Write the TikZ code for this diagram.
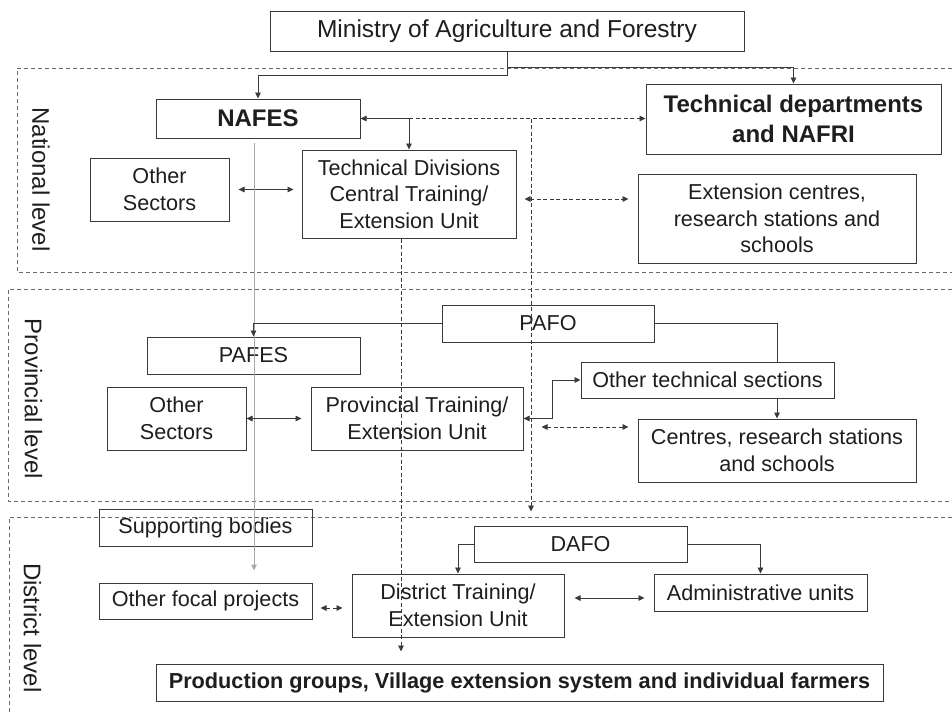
\documentclass[tikz,border=0pt]{standalone}
\usepackage{fontspec}
\setmainfont{Liberation Sans}
\usetikzlibrary{arrows.meta,calc}
\definecolor{boxline}{HTML}{3A3A3A}
\definecolor{ink}{HTML}{1E1E1E}
\definecolor{levelline}{HTML}{6A6A6A}
\definecolor{feedline}{HTML}{A8A8A8}

\begin{document}
\begin{tikzpicture}[x=1pt,y=-1pt,
  unit/.style={draw=boxline, line width=1pt, text=ink, inner sep=0pt, align=center,
               font=\fontsize{21.6}{26.7}\selectfont},
  bigunit/.style={unit, font=\fontsize{24}{30}\bfseries\selectfont},
  level/.style={draw=levelline, line width=0.8pt, dash pattern=on 4pt off 3pt},
  levellabel/.style={rotate=-90, text=ink, inner sep=0pt, font=\fontsize{24}{28}\selectfont},
  link/.style={draw=boxline, line width=0.9pt},
  dashlink/.style={draw=boxline, line width=0.9pt, dash pattern=on 4pt off 2.5pt},
  feed/.style={draw=feedline, line width=1pt},
  onto/.style={-{Triangle[length=6pt,width=5.5pt]}},
  both/.style={{Triangle[length=6pt,width=5.5pt]}-{Triangle[length=6pt,width=5.5pt]}}
]
\useasboundingbox (0,0) rectangle (952,713);
\fill[white] (0,0) rectangle (952,713);

% administrative levels
\draw[level] (952,68) -- (17,68) -- (17,272) -- (952,272);
\draw[level] (952,289) -- (8,289) -- (8,501) -- (952,501);
\draw[level] (952,517) -- (9,517) -- (9,720);
\node[levellabel] (lnat)  at (41,179.5) {National level};
\node[levellabel] (lprov) at (33.5,399) {Provincial level};
\node[levellabel] (ldist) at (32.5,628) {District level};

% ministry and national units
\node[unit, minimum width=474pt, minimum height=40pt, font=\fontsize{24.5}{29}\selectfont]
  (ministry) at (507,31) {Ministry of Agriculture and Forestry};
\node[bigunit, minimum width=204pt, minimum height=39pt] (nafes) at (258,118.5) {NAFES};
\node[bigunit, minimum width=295pt, minimum height=70pt] (techdep) at (793.5,119)
  {Technical departments\\and NAFRI};
\node[unit, minimum width=214pt, minimum height=88pt] (techdiv) at (409,194)
  {Technical Divisions\\Central Training/\\Extension Unit};
\node[unit, minimum width=139pt, minimum height=63pt] (othersec1) at (159.5,189.5)
  {Other\\Sectors};
\node[unit, minimum width=278pt, minimum height=89pt] (extcent) at (777,218.5)
  {Extension centres,\\research stations and\\schools};

% provincial units
\node[unit, minimum width=212pt, minimum height=37pt] (pafo) at (548,323.5) {PAFO};
\node[unit, minimum width=213pt, minimum height=37pt] (pafes) at (253.5,355.5) {PAFES};
\node[unit, minimum width=253pt, minimum height=36pt] (othertech) at (707.5,380)
  {Other technical sections};
\node[unit, minimum width=139pt, minimum height=63pt] (othersec2) at (176.5,418.5)
  {Other\\Sectors};
\node[unit, minimum width=212pt, minimum height=63pt] (pteu) at (417,418.5)
  {Provincial Training/\\Extension Unit};
\node[unit, minimum width=278pt, minimum height=63pt] (centres) at (777,450.5)
  {Centres, research stations\\and schools};

% district units
\node[unit, minimum width=213pt, minimum height=37pt] (supporting) at (205.5,527.5)
  {Supporting bodies};
\node[unit, minimum width=213pt, minimum height=36pt] (dafo) at (580.5,544) {DAFO};
\node[unit, minimum width=213pt, minimum height=36pt] (otherfocal) at (205.5,601)
  {Other focal projects};
\node[unit, minimum width=212pt, minimum height=63pt] (dteu) at (458,605.5)
  {District Training/\\Extension Unit};
\node[unit, minimum width=213pt, minimum height=37pt] (admin) at (760.5,592.5)
  {Administrative units};
\node[unit, minimum width=727pt, minimum height=37pt, font=\fontsize{21.7}{26}\bfseries\selectfont]
  (production) at (519.5,682.5)
  {Production groups, Village extension system and individual farmers};

% national connectors
\draw[link,onto] (ministry.south) -- ++(0,24) -| (nafes.north);
\draw[link,onto] (ministry.south) -- ++(0,16) -| (techdep.north);
\draw[link,both] (nafes.east) -| (techdiv.north);
\draw[dashlink,onto] (techdiv.north |- nafes.east) -- (techdep.west |- nafes.east);
\draw[dashlink,onto,shorten >=14pt] ($(techdiv.north |- nafes.east)+(122,0)$) coordinate (split)
  -- (split |- dafo.north);
\draw[link,both,shorten <=9pt,shorten >=8pt] (othersec1.east) -- (othersec1.east -| techdiv.west);
\draw[dashlink,both,shorten <=8pt,shorten >=9pt] ([yshift=-5pt]techdiv.east) coordinate (d1)
  -- (d1 -| extcent.west);

% lines running down through the levels
\draw[feed,onto,shorten >=12pt] ($(nafes.south)+(-4,4)$) coordinate (f1) -- (f1 |- otherfocal.north);
\draw[dashlink,onto,shorten >=12pt] ($(techdiv.south)+(-8,0)$) coordinate (t1) -- (t1 |- production.north);

% provincial connectors
\draw[link,onto] (pafo.west) -| (pafes.north);
\draw[link] (pafo.east) -| (centres.north |- othertech.north);
\draw[link,onto] (centres.north |- othertech.south) -- (centres.north);
\draw[link,both,shorten >=9pt] (othersec2.east) -- (othersec2.east -| pteu.west);
\draw[link,both] (pteu.east) -- ++(29,0) |- (othertech.west);
\draw[dashlink,both,shorten <=18pt,shorten >=9pt] ([yshift=-8.5pt]pteu.east) coordinate (d2)
  -- (d2 -| centres.west);

% district connectors
\draw[link,onto] (dafo.west) -| (dteu.north);
\draw[link,onto] (dafo.east) -| (admin.north);
\draw[dashlink,both,shorten <=8pt,shorten >=9pt] ([yshift=-7pt]otherfocal.east) coordinate (d3)
  -- (d3 -| dteu.west);
\path ([yshift=-5.5pt]admin.west) coordinate (d4);
\draw[link,both,shorten <=10pt,shorten >=9pt] (d4 -| dteu.east) -- (d4);
\end{tikzpicture}
\end{document}
